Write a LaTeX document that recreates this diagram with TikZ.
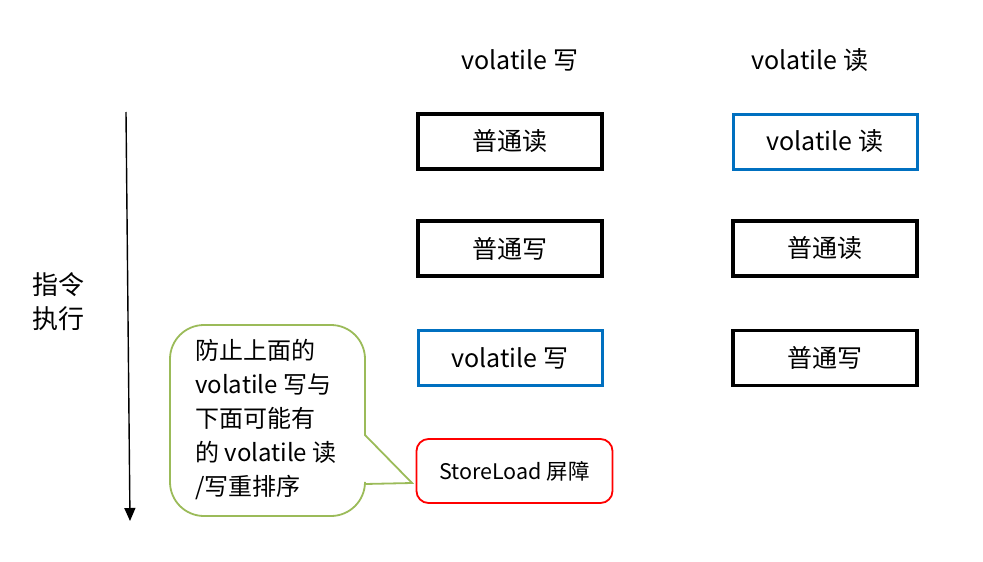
\documentclass[tikz,border=0pt]{standalone}
\usepackage{fontspec}
\setmainfont{Noto Sans CJK SC}
\usetikzlibrary{positioning}
\usetikzlibrary{arrows.meta}
\definecolor{volblue}{RGB}{0,112,192}
\definecolor{notegreen}{RGB}{155,187,89}
\tikzset{
    big/.style = {font=\fontsize{25}{30}\selectfont},
    op/.style = {rectangle,draw,line width=3.5pt,minimum width=184pt,minimum height=55pt,inner sep=0pt,big},
    volop/.style = {op,draw=volblue,line width=3pt},
    head/.style = {big},
    fence/.style = {rectangle,draw=red,line width=1.8pt,rounded corners=12pt,minimum width=196pt,minimum height=64pt,font=\fontsize{21.5}{26}\selectfont},
    note/.style = {align=left,inner sep=0pt,font=\fontsize{24}{34}\selectfont}}

\begin{document}
\begin{tikzpicture}[x=1pt,y=-1pt]
    \useasboundingbox (0,0) rectangle (983,562);
    % column heads
    \node[head] (whead) at (520,60) {volatile 写};
    \node[head] (rhead) at (810,60) {volatile 读};
    % left column
    \node[op] (w1) at (510,141.5) {普通读};
    \node[op] (w2) at (510,248.5) {普通写};
    \node[volop] (w3) at (510,358) {volatile 写};
    \node[fence] (bar) at (514.5,471) {StoreLoad 屏障};
    % right column
    \node[volop] (r1) at (825,141.5) {volatile 读};
    \node[op] (r2) at (825,248.5) {普通读};
    \node[op] (r3) at (825,358) {普通写};
    % time axis
    \coordinate (tstart) at (126,112);
    \coordinate (tend) at (130,521);
    \draw[line width=1.4pt,-{Triangle[length=13pt,width=11pt]}] (tstart) -- (tend);
    \node[align=left,font=\fontsize{26}{34}\selectfont] (order) at (58,302) {指令\\执行};
    % callout
    \coordinate (tip) at (412,483);
    \draw[notegreen,line width=1.8pt,rounded corners=34pt]
        (365,435) -- (365,325) -- (170,325) -- (170,516) -- (365,516) [sharp corners] -- (365,484) -- (tip) -- cycle;
    \node[note,anchor=north west] (why) at (195,339) {防止上面的\\volatile 写与\\下面可能有\\的 volatile 读\\/写重排序};
\end{tikzpicture}
\end{document}
